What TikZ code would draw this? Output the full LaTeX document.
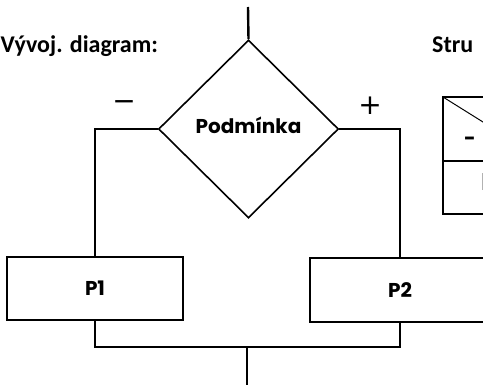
\documentclass[tikz,border=0pt]{standalone}
\usepackage{fontspec}
\setmainfont{Carlito}
\newfontfamily\blockfont{Poppins}
\newfontfamily\signfont{DejaVu Sans}
\usetikzlibrary{shapes.geometric}

\begin{document}
\begin{tikzpicture}
  [x=1pt,y=-1pt,line join=miter,
   every node/.style={inner sep=0pt},
   title/.style={font=\fontsize{24}{28}\selectfont\bfseries,anchor=base west},
   sign/.style={font=\signfont\fontsize{28}{32}\selectfont},
   label/.style={font=\blockfont\fontsize{20}{24}\selectfont\bfseries},
   block/.style={draw,label,line width=1.4pt,minimum width=176pt,minimum height=63pt},
   cond/.style={draw,diamond,line width=1.6pt,minimum width=180pt,minimum height=178pt},
   flow/.style={line width=2.4pt}]
  \useasboundingbox (0,0) rectangle (483,385);

  % headings
  \node[title] (head1) at (0.5,53) {Vývoj. diagram:};
  \node[title] (head2) at (432,53) {Stru};

  % flow chart
  \coordinate (in) at (248,7);
  \node[cond] (dia) at (248.5,129) {};
  \node[label] (txt) at ([yshift=4pt]dia.center) {Podmínka};
  \node[sign] (minus) at (124,106) {−};
  \node[sign] (plus) at (370,106) {+};
  \node[block] (p1) at (95,288.5) {P1};
  \node[block,minimum width=180pt,minimum height=64pt] (p2) at (400,290) {P2};
  \coordinate (join) at (247,347);
  \coordinate (out) at (247,385);

  \draw[flow] (in) -- (dia.north);
  \draw[flow] (dia.west) -| (p1.north);
  \draw[flow] (dia.east) -| (p2.north);
  \draw[flow] (p1.south) |- (join) -| (p2.south);
  \draw[flow] (join) -- (out);

  % structogram (cut off)
  \coordinate (s1) at (443,97);
  \coordinate (s2) at (443,214);
  \draw[line width=1.4pt] (520,97) -- (s1) -- (s2) -- (520,214);
  \draw[line width=1.4pt] (443,161) -- (520,161);
  \draw[line width=1pt] (s1) -- (523,147);
  \node[label] (sm) at (470,141) {-};
  \draw[gray!60,line width=2pt] (482.5,173) -- (482.5,190);
\end{tikzpicture}
\end{document}
